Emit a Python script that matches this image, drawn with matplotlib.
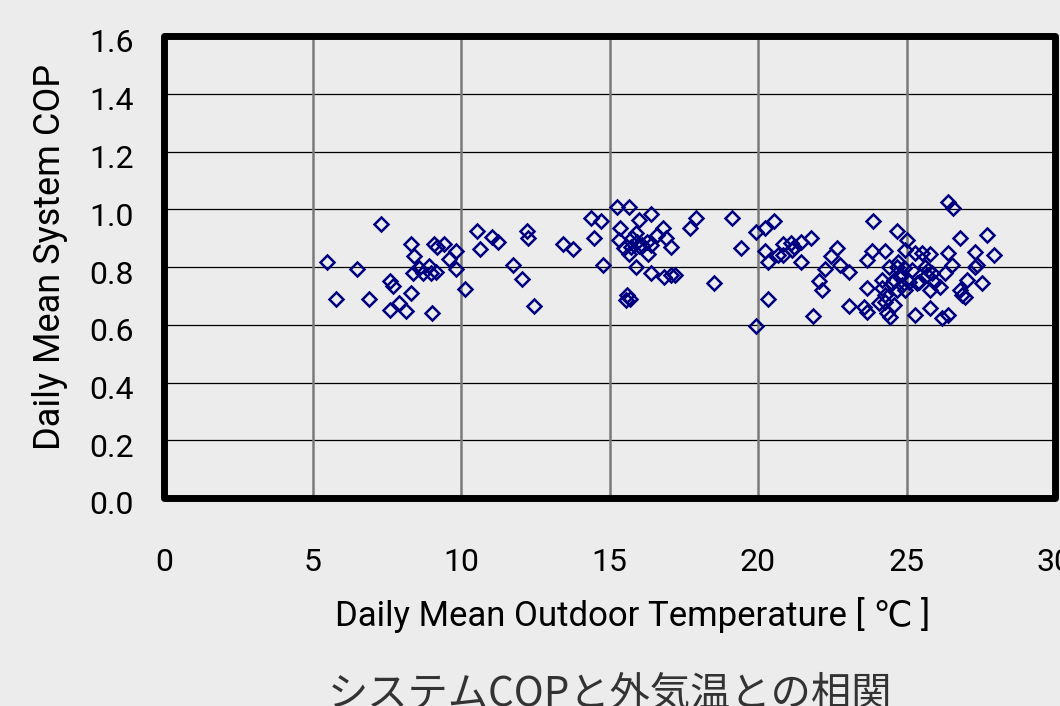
import matplotlib
matplotlib.use("Agg")
import matplotlib.pyplot as plt
import matplotlib.transforms as mtransforms
from matplotlib.patches import Rectangle

# ---- data ----
temp = [5.48, 5.80, 6.50, 6.90, 7.30, 7.60, 7.71, 7.60, 7.91, 8.14,
        8.31, 8.43, 8.31, 8.40, 8.60, 8.72, 8.92, 9.00, 9.17, 9.01,
        9.10, 9.19, 9.44, 9.84, 9.61, 9.84, 10.13, 10.53, 10.65, 11.04,
        11.25, 11.74, 12.06, 12.23, 12.26, 12.46, 13.45, 13.78, 14.38, 14.71,
        14.49, 14.79, 15.25, 15.66, 16.39, 15.99, 15.36, 16.81, 15.89, 16.61,
        15.32, 15.76, 15.93, 16.10, 16.27, 16.40, 16.00, 16.89, 17.06, 15.72,
        15.49, 15.66, 16.28, 15.89, 16.39, 16.84, 17.06, 15.60, 15.69, 15.55,
        17.21, 17.72, 17.92, 18.53, 19.13, 19.43, 19.92, 19.92, 20.23, 20.54,
        20.23, 20.34, 20.66, 20.84, 20.84, 21.10, 21.20, 21.15, 21.46, 21.77,
        21.45, 20.34, 21.84, 22.24, 22.45, 22.67, 22.76, 23.08, 22.05, 22.16,
        23.08, 23.86, 24.68, 23.84, 24.29, 23.67, 25.01, 24.96, 25.30, 24.40,
        24.68, 24.90, 24.79, 24.57, 24.17, 24.51, 24.85, 25.07, 25.35, 23.67,
        24.29, 24.57, 24.06, 23.56, 23.67, 24.34, 24.46, 25.30, 24.29, 24.19,
        26.39, 26.58, 26.81, 27.70, 27.93, 27.31, 27.37, 27.31, 26.41, 25.80,
        25.52, 26.53, 26.30, 25.74, 25.68, 25.91, 26.14, 25.80, 27.53, 27.03,
        26.81, 26.86, 26.98, 25.80, 26.19, 26.41, 24.73, 25.18, 24.94, 24.67,
        25.63, 25.86, 25.41]
cop = [0.817, 0.689, 0.793, 0.689, 0.948, 0.753, 0.734, 0.651, 0.676, 0.649,
       0.879, 0.838, 0.711, 0.778, 0.797, 0.780, 0.803, 0.779, 0.784, 0.642,
       0.880, 0.870, 0.880, 0.855, 0.829, 0.792, 0.724, 0.924, 0.863, 0.903,
       0.887, 0.806, 0.757, 0.926, 0.900, 0.665, 0.879, 0.863, 0.971, 0.958,
       0.899, 0.806, 1.009, 1.009, 0.983, 0.963, 0.934, 0.936, 0.917, 0.911,
       0.893, 0.900, 0.886, 0.876, 0.886, 0.876, 0.873, 0.899, 0.870, 0.870,
       0.865, 0.844, 0.844, 0.801, 0.778, 0.766, 0.772, 0.703, 0.690, 0.686,
       0.772, 0.934, 0.970, 0.746, 0.970, 0.865, 0.922, 0.596, 0.934, 0.960,
       0.855, 0.817, 0.843, 0.841, 0.880, 0.882, 0.870, 0.859, 0.888, 0.899,
       0.818, 0.689, 0.630, 0.793, 0.838, 0.865, 0.807, 0.783, 0.752, 0.720,
       0.665, 0.958, 0.925, 0.855, 0.855, 0.824, 0.894, 0.859, 0.847, 0.801,
       0.801, 0.795, 0.772, 0.755, 0.755, 0.744, 0.738, 0.749, 0.744, 0.726,
       0.703, 0.668, 0.674, 0.663, 0.645, 0.640, 0.628, 0.634, 0.678, 0.726,
       1.026, 1.003, 0.899, 0.911, 0.842, 0.853, 0.807, 0.801, 0.847, 0.845,
       0.847, 0.807, 0.780, 0.790, 0.772, 0.749, 0.732, 0.720, 0.746, 0.755,
       0.720, 0.703, 0.697, 0.657, 0.622, 0.634, 0.817, 0.790, 0.720, 0.720,
       0.801, 0.778, 0.749]

x_ticks = [0, 5, 10, 15, 20, 25, 30]
y_ticks = [0.0, 0.2, 0.4, 0.6, 0.8, 1.0, 1.2, 1.4, 1.6]
x_tick_labels = ["0", "5", "10", "15", "20", "25", "30"]
y_tick_labels = ["0.0", "0.2", "0.4", "0.6", "0.8", "1.0", "1.2", "1.4", "1.6"]
x_label = "Daily Mean Outdoor Temperature [ \u2103 ]"
y_label = "Daily Mean System COP"
title = "システムCOPと外気温との相関"

# ---- style ----
bg = "#ececec"
latin = ["Roboto", "DejaVu Sans"]
plt.rcParams["font.family"] = latin

fig = plt.figure(figsize=(10.6, 7.06), dpi=100, facecolor=bg)
ax = fig.add_axes([164 / 1060, 1 - 498 / 706, (1055 - 164) / 1060, (498 - 36) / 706])
ax.set_facecolor(bg)

ax.set_xlim(0, 30)
ax.set_ylim(0, 1.6)
ax.set_xticks(x_ticks)
ax.set_xticklabels(x_tick_labels)
ax.set_yticks(y_ticks)
ax.set_yticklabels(y_tick_labels)
ax.tick_params(axis="both", length=0, labelsize=23, colors="black")
ax.tick_params(axis="x", pad=36)
ax.tick_params(axis="y", pad=22)

# shift y tick labels slightly downward as in the reference
offset = mtransforms.ScaledTranslation(0, -5 / 100, fig.dpi_scale_trans)
for lab in ax.get_yticklabels():
    lab.set_transform(lab.get_transform() + offset)

for y in y_ticks:
    ax.axhline(y, color="black", lw=0.9, zorder=1)
for x in x_ticks:
    ax.axvline(x, color="#7a7a7a", lw=1.8, zorder=1)

for s in ax.spines.values():
    s.set_visible(False)
frame = Rectangle((0, 0), 1, 1, transform=ax.transAxes, fill=False,
                  edgecolor="black", lw=5, joinstyle="round", clip_on=False, zorder=5)
ax.add_patch(frame)

ax.plot(temp, cop, linestyle="none", marker="D", ms=7.2, mfc="none",
        mec="#000080", mew=1.8, zorder=3, clip_on=False)

ax.set_xlabel(x_label, fontsize=25, family=latin)
ax.xaxis.set_label_coords((633 - 164) / 891, -(615 - 498) / 462)
ax.xaxis.label.set_verticalalignment("center")
ax.set_ylabel(y_label, fontsize=26, family=latin)
ax.yaxis.set_label_coords(-(164 - 50) / 891, (498 - 257) / 462)
ax.yaxis.label.set_verticalalignment("center")

fig.text(610 / 1060, 1 - 694 / 706, title, ha="center", va="center",
         fontsize=29, color="#333333",
         family=["Noto Sans CJK JP", "DejaVu Sans"])

fig.savefig("out.png", dpi=100, facecolor=bg)
